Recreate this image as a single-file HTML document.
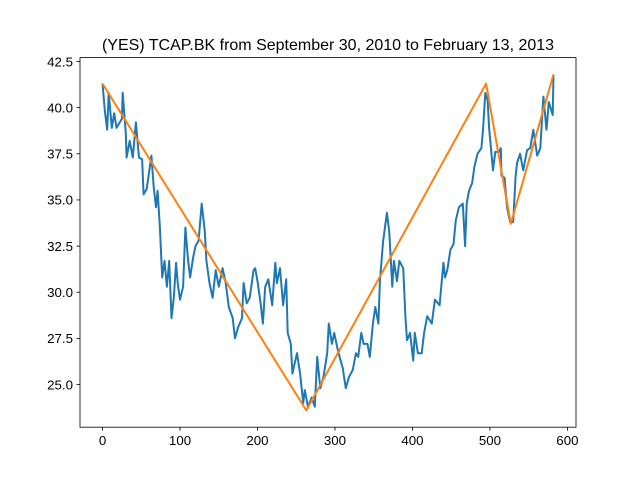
<!DOCTYPE html>
<html><head><meta charset="utf-8"><style>
body{margin:0;background:#fff}
svg{display:block;font-family:"Liberation Sans","DejaVu Sans",sans-serif}
</style></head><body>
<svg id="chart" width="640" height="480">
<rect width="640" height="480" fill="#fff"/>
<text x="328" y="50" text-anchor="middle" font-size="16" fill="#000">(YES) TCAP.BK from September 30, 2010 to February 13, 2013</text>
<g id="plot"></g>
</svg>
<script>
const priceIdx=[0,3,6,8,12,15,18,25,26,30,31,35,39,43,47,51,53,57,59,63,66,69,71,74,77,80,83,86,89,92,95,97,100,104,107,110,113,117,120,124,128,132,134,138,142,146,150,155,159,163,168,171,175,180,182,186,190,195,197,200,204,207,210,214,219,223,225,229,233,237,239,243,245,251,255,259,261,265,270,274,277,281,285,290,292,296,299,304,310,314,318,323,327,330,334,337,342,345,349,352,356,358,362,367,370,374,376,380,383,388,391,393,397,401,403,407,412,415,419,425,429,435,440,442,445,449,453,456,460,465,468,470,473,477,480,484,489,491,494,497,499,504,507,512,514,515,519,522,526,530,533,535,539,543,548,552,556,561,565,569,573,576,581,582];
const priceVal=[41.3,39.8,38.8,40.8,38.9,39.7,38.9,39.4,40.8,38.6,37.3,38.2,37.3,39.2,37.3,37.2,35.3,35.6,36.2,37.4,35.7,34.6,35.5,33.5,30.8,31.7,30.3,31.7,28.6,29.7,31.6,30.5,29.6,30.3,33.5,31.9,30.8,31.9,32.5,32.8,34.8,33.3,31.7,30.5,29.7,31.2,30.3,31.3,30.5,29.2,28.6,27.5,28.1,28.6,30.5,29.4,29.7,31.2,31.3,30.6,29.4,28.3,30.3,30.7,29.3,31.6,30.5,31.3,29.3,30.7,27.8,27.2,25.6,26.7,25.6,24.0,24.7,23.8,24.3,23.8,26.5,24.8,25.4,26.7,28.3,27.2,27.8,26.8,25.9,24.8,25.4,25.8,26.7,26.5,27.8,27.2,27.2,26.5,28.3,29.2,28.3,30.6,32.7,34.3,33.3,30.3,31.7,30.6,31.7,31.3,28.6,27.4,27.8,26.3,27.8,26.7,26.7,27.8,28.7,28.3,29.6,29.3,31.6,30.8,31.2,32.3,32.6,33.9,34.6,34.8,32.5,34.8,35.5,35.9,36.8,37.5,37.8,38.8,40.8,40.4,38.9,36.6,37.6,37.6,37.8,36.3,36.2,34.6,33.8,33.8,36.2,37.0,37.5,36.6,37.7,37.8,38.8,37.4,37.8,40.6,38.8,40.3,39.6,41.8];
const trendIdx=[0,263,495,527,582];
const trendVal=[41.3,23.6,41.3,33.7,41.8];
const xTicks=[0,100,200,300,400,500,600];
const yTicks=[25.0,27.5,30.0,32.5,35.0,37.5,40.0,42.5];

const L=80,R=576,T=57.6,B=427.2;
const xMin=-29.1,xMax=611.1,yMin=22.69,yMax=42.71;
const sx=v=>L+(v-xMin)/(xMax-xMin)*(R-L);
const sy=v=>B-(v-yMin)/(yMax-yMin)*(B-T);
const NS="http://www.w3.org/2000/svg";
const g=document.getElementById('plot');
function mk(t,a){const e=document.createElementNS(NS,t);for(const k in a)e.setAttribute(k,a[k]);g.appendChild(e);return e;}

const pts=priceIdx.map((d,i)=>sx(d).toFixed(1)+','+sy(priceVal[i]).toFixed(1)).join(' ');
const p1=mk('polyline',{points:pts,fill:'none',stroke:'#1f77b4','stroke-width':2,'stroke-linejoin':'round'});


const pts2=trendIdx.map((d,i)=>sx(d).toFixed(1)+','+sy(trendVal[i]).toFixed(1)).join(' ');
const p2=mk('polyline',{points:pts2,fill:'none',stroke:'#ff7f0e','stroke-width':2,'stroke-linejoin':'round'});



const fr=mk('rect',{x:L,y:T,width:R-L,height:B-T,fill:'none',stroke:'#000','stroke-width':0.8});



xTicks.forEach(v=>{
  const x=sx(v);
  const tk=mk('line',{x1:x,x2:x,y1:B,y2:B+3.5,stroke:'#000','stroke-width':0.8});
  
  
  const t=mk('text',{x:x,y:B+18,'text-anchor':'middle','font-size':13.3,fill:'#000'});
  t.textContent=v;
  
  
});
yTicks.forEach(v=>{
  const y=sy(v);
  const tk=mk('line',{x1:L-3.5,x2:L,y1:y,y2:y,stroke:'#000','stroke-width':0.8});
  
  
  const t=mk('text',{x:L-7,y:y+4.8,'text-anchor':'end','font-size':13.3,fill:'#000'});
  t.textContent=v.toFixed(1);
  
  
});
</script>
</body></html>
